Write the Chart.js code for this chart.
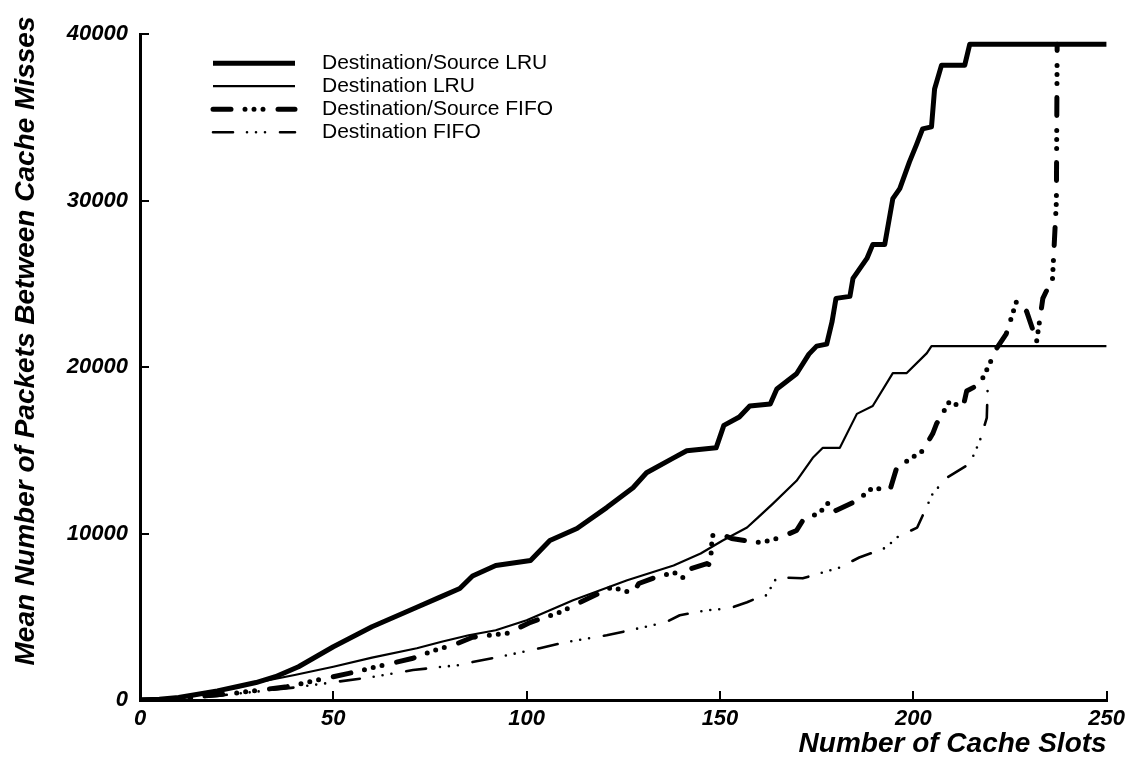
<!DOCTYPE html>
<html>
<head>
<meta charset="utf-8">
<title>Cache slots vs packets between misses</title>
<script src="https://cdn.jsdelivr.net/npm/chart.js@4/dist/chart.umd.min.js"></script>
<style>
  html, body { margin: 0; padding: 0; background: #fff; }
  #wrap { width: 1140px; height: 767px; position: relative; }
</style>
</head>
<body>
<div id="wrap"><canvas id="cache-chart"></canvas></div>
<script>
const xTicks = [0, 50, 100, 150, 200, 250];
const yTicks = [0, 10000, 20000, 30000, 40000];

const xTitle = 'Number of Cache Slots';
const yTitle = 'Mean Number of Packets Between Cache Misses';

// Destination/Source LRU
const dsLruSlots = [0, 5, 10, 15, 20, 25, 30, 35, 41, 50, 60, 71.6, 77.6, 82.7, 86, 92, 101, 106, 113, 120.7,
    127.5, 131, 138, 141.4, 149, 151, 155, 157.7, 163, 164.7, 169.8, 173, 175, 177.6, 179, 180, 183.6, 184.4,
    188, 189.5, 192.6, 194.7, 196.5, 199, 200.8, 202.4, 204.7, 205.5, 207.3, 213.3, 214.6, 250];
const dsLruMisses = [0, 50, 150, 350, 550, 800, 1050, 1400, 2000, 3200, 4400, 5570, 6180, 6700, 7450, 8080, 8380, 9580, 10300, 11560,
    12750, 13650, 14550, 14970, 15150, 16500, 17000, 17660, 17780, 18680, 19600, 20780, 21260, 21380, 22750, 24130, 24250, 25330,
    26530, 27360, 27360, 30120, 30720, 32330, 33350, 34310, 34430, 36710, 38140, 38140, 39400, 39400];

// Destination LRU
const dLruSlots = [0, 10, 17, 26, 29, 40, 50, 60, 71.6, 78, 85, 92, 100, 112, 126, 138, 145, 150.7, 157, 160,
    163.7, 169.8, 174, 176.6, 181, 185.4, 189.5, 194.7, 198.3, 203.5, 204.7, 250];
const dLruMisses = [0, 120, 400, 780, 1000, 1500, 2000, 2550, 3110, 3500, 3890, 4190, 4790, 5990, 7190, 8080, 8800, 9580, 10360, 11000,
    11800, 13170, 14550, 15150, 15150, 17190, 17660, 19640, 19640, 20840, 21260, 21260];

// Destination/Source FIFO
const dsFifoSlots = [0, 10, 17, 26, 38, 54, 70.6, 77.6, 81, 86, 95, 101, 108.6, 116, 122, 127.5, 129, 132.6, 138, 140.8,
    142, 146.6, 147.5, 148, 150, 153, 159.5, 163, 165.5, 169.8, 171.4, 175.8, 178.5, 180, 185.4, 189.5, 193.9, 195.7,
    202.4, 205, 206, 209.4, 212.8, 213.8, 217.2, 219.7, 221.6, 224, 226.7, 229.3, 231.9, 233.5, 236, 237, 237.2];
const dsFifoMisses = [0, 80, 250, 450, 800, 1600, 2510, 3100, 3290, 3770, 4010, 4670, 5270, 6110, 6770, 6410, 7000, 7310, 7670, 7300,
    7850, 8200, 8100, 9880, 10000, 9700, 9460, 9580, 9760, 10180, 10780, 11260, 11980, 11380, 11980, 12750, 12570, 13950,
    14970, 15990, 16590, 17960, 17540, 18560, 18980, 20180, 21140, 21980, 23950, 23350, 21560, 24130, 25330, 29940, 39400];

// Destination FIFO
const dFifoSlots = [0, 10, 20, 30, 40, 48, 60, 70.6, 77.6, 82.7, 86, 95, 103.4, 110, 120.7, 126.7, 136, 139.6, 146.6, 152.5,
    157, 160, 162, 164.7, 171.4, 181, 186, 193, 195.7, 201, 205, 208.6, 214.6, 217.2, 219, 219.2, 218.8];
const dFifoMisses = [0, 50, 250, 500, 750, 1000, 1380, 1800, 1980, 2100, 2280, 2690, 3110, 3470, 3890, 4190, 4670, 5090, 5390, 5510,
    5870, 6170, 6290, 7370, 7310, 7960, 8560, 9160, 9760, 10360, 12390, 13350, 14190, 15570, 16950, 18560, 19000];

const FONT = '"Liberation Sans", Arial, Helvetica, sans-serif';

function points(xs, ys) {
    return xs.map((x, i) => ({ x, y: ys[i] }));
}

function series(label, xs, ys, width, dash) {
    return {
        label,
        data: points(xs, ys),
        borderColor: '#000',
        borderWidth: width,
        borderDash: dash,
        borderCapStyle: dash.length ? 'round' : 'butt',
        borderJoinStyle: 'round',
        pointRadius: 0,
        tension: 0,
        fill: false,
    };
}

// legend lines in the upper left, plus the rotated y title
const keyAndTitle = {
    id: 'keyAndTitle',
    afterDraw(chart) {
        const { ctx, chartArea } = chart;
        ctx.save();
        ctx.fillStyle = '#000';
        ctx.font = `italic bold 28px ${FONT}`;
        ctx.translate(26, 341);
        ctx.rotate(-Math.PI / 2);
        ctx.textAlign = 'center';
        ctx.textBaseline = 'middle';
        ctx.fillText(yTitle, 0, 0);
        ctx.restore();

        ctx.save();
        ctx.font = `21px ${FONT}`;
        ctx.textBaseline = 'middle';
        const x0 = chartArea.left + 73;
        chart.data.datasets.forEach((ds, i) => {
            const y = chartArea.top + 29 + i * 23;
            ctx.beginPath();
            ctx.lineWidth = ds.borderWidth;
            ctx.lineCap = ds.borderCapStyle;
            ctx.setLineDash(ds.borderDash);
            ctx.strokeStyle = ds.borderColor;
            ctx.moveTo(x0, y);
            ctx.lineTo(x0 + 82, y);
            ctx.stroke();
            ctx.fillStyle = '#000';
            ctx.fillText(ds.label, x0 + 109, y);
        });
        ctx.restore();
    },
};

const tickFont = { family: FONT, size: 22, style: 'italic', weight: 'bold' };

new Chart(document.getElementById('cache-chart'), {
    type: 'line',
    data: {
        datasets: [
            series('Destination/Source LRU', dsLruSlots, dsLruMisses, 5, []),
            series('Destination LRU', dLruSlots, dLruMisses, 2.2, []),
            series('Destination/Source FIFO', dsFifoSlots, dsFifoMisses, 5, [18, 14, 0, 9, 0, 9, 0, 15]),
            series('Destination FIFO', dFifoSlots, dFifoMisses, 2.6, [20, 14, 0, 9, 0, 9, 0, 15]),
        ],
    },
    options: {
        responsive: true,
        maintainAspectRatio: false,
        animation: false,
        layout: { padding: { top: 32, right: 33, left: 0, bottom: 0 } },
        plugins: {
            legend: { display: false },
            tooltip: { enabled: false },
        },
        scales: {
            x: {
                type: 'linear',
                min: 0,
                max: 250,
                afterBuildTicks: (scale) => { scale.ticks = xTicks.map((value) => ({ value })); },
                afterFit: (scale) => { scale.height = 67; },
                border: { display: true, color: '#000', width: 3 },
                grid: { drawOnChartArea: false, color: '#000', lineWidth: 2, tickLength: -9 },
                ticks: { color: '#000', font: tickFont, padding: 15, maxRotation: 0, callback: (v) => String(v) },
                title: {
                    display: true,
                    text: xTitle,
                    align: 'end',
                    color: '#000',
                    font: { family: FONT, size: 28, style: 'italic', weight: 'bold' },
                    padding: { top: 0, bottom: 6 },
                },
            },
            y: {
                min: 0,
                max: 40000,
                afterBuildTicks: (scale) => { scale.ticks = yTicks.map((value) => ({ value })); },
                afterFit: (scale) => { scale.width = 140; },
                border: { display: true, color: '#000', width: 3 },
                grid: { drawOnChartArea: false, color: '#000', lineWidth: 2, tickLength: -9 },
                ticks: { color: '#000', font: tickFont, padding: 21, callback: (v) => String(v) },
            },
        },
    },
    plugins: [keyAndTitle],
});
</script>
</body>
</html>
